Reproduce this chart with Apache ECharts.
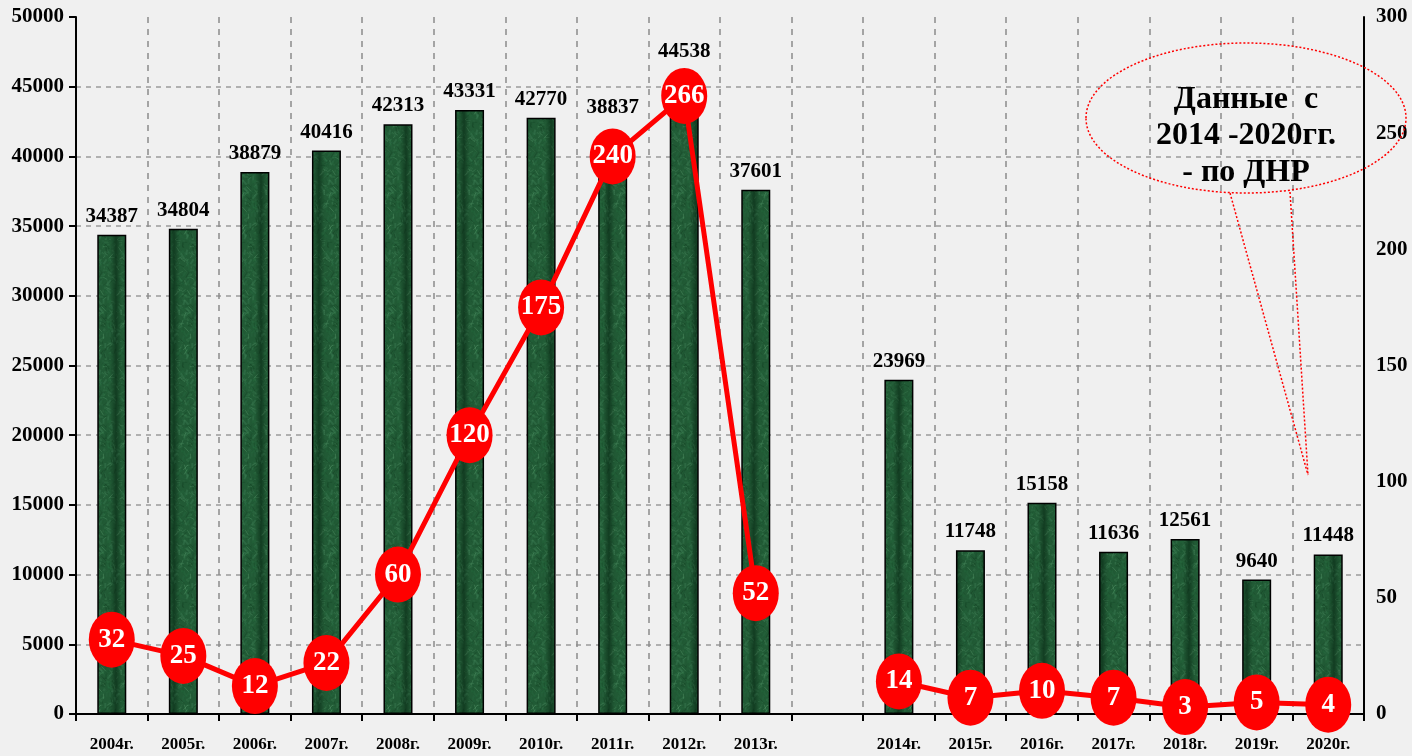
<!DOCTYPE html>
<html>
<head>
<meta charset="utf-8">
<script src="https://cdn.jsdelivr.net/npm/echarts@6/dist/echarts.min.js"></script>
<style>
html,body{margin:0;padding:0;background:#f0f0f0;}
#chart{width:1412px;height:756px;}
</style>
</head>
<body>
<div id="chart"></div>
<script>
const categories = ['2004г.','2005г.','2006г.','2007г.','2008г.','2009г.','2010г.','2011г.','2012г.','2013г.','','2014г.','2015г.','2016г.','2017г.','2018г.','2019г.','2020г.'];
const barValues = [34387,34804,38879,40416,42313,43331,42770,38837,44538,37601,null,23969,11748,15158,11636,12561,9640,11448];
const lineValues = [32,25,12,22,60,120,175,240,266,52,null,14,7,10,7,3,5,4];
const leftTicks = {min:0, max:50000, interval:5000};
const rightTicks = {min:0, max:300, interval:50};
const noteLines = ['Данные  с','2014 -2020гг.','- по ДНР'];

// label lifts for bars whose value labels sit above the red markers
const labelLift = {7:-47, 8:-23};

// marble-like green texture (deterministic)
function makeTexture(){
  const c = document.createElement('canvas');
  c.width = 29; c.height = 120;
  const g = c.getContext('2d');
  g.fillStyle = '#215a35';
  g.fillRect(0,0,29,120);
  for(let i=0;i<420;i++){
    const x = Math.abs((Math.sin(i*12.9898)*43758.5453)%1);
    const y = Math.abs((Math.sin(i*78.233)*12345.678)%1);
    const px = x*29, py = y*120;
    const a = 0.10 + (i%5)*0.05;
    const k = i%4;
    g.strokeStyle = k===0 ? 'rgba(110,180,130,'+a+')' : (k===1 ? 'rgba(70,140,95,'+a+')' : (k===2 ? 'rgba(12,50,25,'+a+')' : 'rgba(40,110,65,'+a+')'));
    g.lineWidth = 1 + (i%2);
    g.beginPath();
    g.moveTo(px,py);
    g.lineTo(px + ((i%7)-3)*1.5, py + ((i%5)-2)*2.5);
    g.stroke();
  }
  // darker edges
  const grd = g.createLinearGradient(0,0,29,0);
  grd.addColorStop(0,'rgba(0,25,10,0.45)');
  grd.addColorStop(0.2,'rgba(0,25,10,0)');
  grd.addColorStop(0.8,'rgba(0,25,10,0)');
  grd.addColorStop(1,'rgba(0,25,10,0.45)');
  g.fillStyle = grd;
  g.fillRect(0,0,29,120);
  return c;
}
const tex = makeTexture();

const FONT = '"Liberation Serif","Times New Roman",serif';

const chart = echarts.init(document.getElementById('chart'), null, {renderer:'canvas'});

const barData = barValues.map((v,i)=>{
  const item = {value:v};
  if(labelLift[i] !== undefined){ item.label = {offset:[0, labelLift[i]]}; }
  return item;
});

const noteStyle = {fill:'#000', font:'bold 32px '+FONT, textAlign:'center', textVerticalAlign:'middle', shadowColor:'rgba(0,0,0,0.35)', shadowBlur:2, shadowOffsetX:1.5, shadowOffsetY:1.5};

const option = {
  backgroundColor:'#f0f0f0',
  animation:false,
  grid:{left:76, right:48, top:17, bottom:42, show:false},
  xAxis:[
    {
      type:'category',
      data:categories,
      boundaryGap:true,
      axisLine:{show:true, lineStyle:{color:'#000', width:2}},
      axisTick:{show:true, interval:0, length:7, lineStyle:{color:'#000', width:2}},
      axisLabel:{interval:0, margin:22, color:'#000', fontFamily:FONT, fontWeight:'bold', fontSize:17},
      splitLine:{show:true, interval:0, showMinLine:false, showMaxLine:false, lineStyle:{color:'#8a8a8a', type:[6,6], width:1.5}}
    },
    {
      type:'category',
      data:categories,
      position:'top',
      axisLine:{show:true, lineStyle:{color:'#000', width:2}},
      axisTick:{show:false},
      axisLabel:{show:false},
      splitLine:{show:false}
    }
  ],
  yAxis:[
    {
      type:'value', min:leftTicks.min, max:leftTicks.max, interval:leftTicks.interval,
      axisLine:{show:true, lineStyle:{color:'#000', width:2}},
      axisTick:{show:true, length:7, lineStyle:{color:'#000', width:2}},
      axisLabel:{color:'#000', fontFamily:FONT, fontWeight:'bold', fontSize:21, margin:12, formatter:v=>String(v)},
      splitLine:{show:true, showMinLine:false, showMaxLine:false, lineStyle:{color:'#b0b0b0', type:[5,5], width:2}}
    },
    {
      type:'value', min:rightTicks.min, max:rightTicks.max, interval:rightTicks.interval,
      position:'right',
      axisLine:{show:true, lineStyle:{color:'#000', width:2}},
      axisTick:{show:false},
      axisLabel:{color:'#000', fontFamily:FONT, fontWeight:'bold', fontSize:21, margin:12},
      splitLine:{show:false}
    }
  ],
  series:[
    {
      type:'bar',
      yAxisIndex:0,
      data:barData,
      barWidth:29,
      itemStyle:{color:{image:tex, repeat:'repeat'}, borderColor:'#000', borderWidth:1.5},
      label:{show:true, position:'top', distance:8, color:'#000', fontFamily:FONT, fontWeight:'bold', fontSize:21},
      z:2
    },
    {
      type:'line',
      yAxisIndex:1,
      data:lineValues,
      connectNulls:false,
      symbol:'circle',
      symbolSize:[46,56],
      lineStyle:{color:'#ff0000', width:5},
      itemStyle:{color:'#ff0000', borderWidth:0},
      label:{show:true, position:'inside', color:'#fff', fontFamily:FONT, fontWeight:'bold', fontSize:27},
      z:5
    }
  ],
  graphic:[
    {type:'ellipse', shape:{cx:1246, cy:118, rx:160, ry:75}, style:{fill:'none', stroke:'#ff0000', lineWidth:1.5, lineDash:[2,2]}, z:10},
    {type:'polyline', shape:{points:[[1230,193],[1308,475]]}, style:{stroke:'#ff0000', lineWidth:1.5, lineDash:[2,2], fill:'none'}, z:10},
    {type:'polyline', shape:{points:[[1290,192],[1308,475]]}, style:{stroke:'#ff0000', lineWidth:1.5, lineDash:[2,2], fill:'none'}, z:10},
    {type:'text', x:1246, y:100, style:Object.assign({text:noteLines[0]}, noteStyle), z:11},
    {type:'text', x:1246, y:136, style:Object.assign({text:noteLines[1]}, noteStyle), z:11},
    {type:'text', x:1246, y:173, style:Object.assign({text:noteLines[2]}, noteStyle), z:11}
  ]
};
chart.setOption(option);
</script>
</body>
</html>
